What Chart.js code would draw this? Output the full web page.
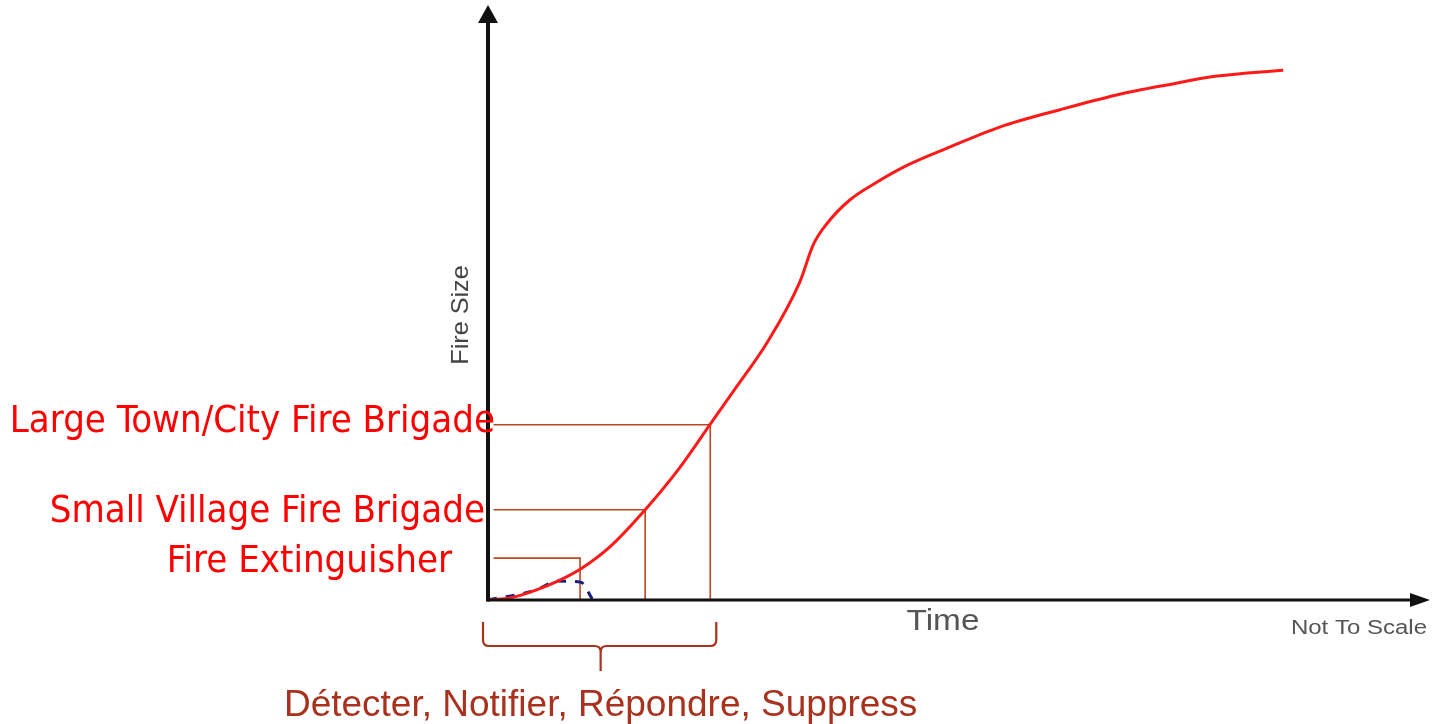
<!DOCTYPE html>
<html>
<head>
<meta charset="utf-8">
<script src="https://cdn.jsdelivr.net/npm/chart.js@4/dist/chart.umd.min.js"></script>
<style>
  html, body { margin: 0; padding: 0; background: #fff; }
  #wrap { width: 1432px; height: 724px; position: relative; }
</style>
</head>
<body>
<div id="wrap"><canvas id="chart" width="1432" height="724"></canvas></div>
<script>
// Fire growth curve vs. response capacity (not to scale)
const timeValues = [0, 2.5, 5.0, 7.5, 10.0, 13.1, 16.9, 20.6, 23.9, 26.3, 30.0, 33.5, 35.0, 36.5, 38.9, 41.8, 45.1, 49.7, 55.1, 61.5, 67.6, 73.0, 78.4, 85.5];
const fireSize = [0, 0.4, 1.6, 3.2, 5.3, 9.0, 15.3, 22.4, 29.8, 35.2, 43.6, 53.8, 60.3, 63.9, 67.8, 70.8, 73.7, 76.8, 80.2, 83.1, 85.6, 87.3, 88.8, 89.8];

// small dashed curve near the origin (mostly hidden under the red one)
const controlTime = [0, 5.0, 7.5, 10.0, 11.2];
const controlSize = [0, 1.6, 3.2, 3.0, 0.2];

const responders = ['Fire Extinguisher', 'Small Village Fire Brigade', 'Large Town/City Fire Brigade'];
const responseTime = [9.9, 16.9, 23.9];
const responseSize = [7.1, 15.3, 29.7];

const xTitle = 'Time';
const yTitle = 'Fire Size';
const noteText = 'Not To Scale';
const braceText = 'Détecter, Notifier, Répondre, Suppress';

const RED = '#ff1a1a';
const BROWN = '#b9471f';
const BRACE = '#a8321e';

// label placement relative to the axis / level line (px)
const labelRight = [-36, -3, 7];
const labelBaseline = [14, 12, 7];

const curve = timeValues.map((t, i) => ({ x: t, y: fireSize[i] }));
const control = controlTime.map((t, i) => ({ x: t, y: controlSize[i] }));
const levelLines = responders.map((name, i) => ({
  label: name,
  data: [{ x: 0.6, y: responseSize[i] }, { x: responseTime[i], y: responseSize[i] }, { x: responseTime[i], y: 0 }],
  showLine: true, borderColor: BROWN, borderWidth: 1.6, pointRadius: 0, tension: 0, order: 3
}));

function text(ctx, str, x, y, font, color, align, sx) {
  ctx.save();
  ctx.font = font;
  ctx.fillStyle = color;
  ctx.textAlign = align || 'left';
  ctx.textBaseline = 'alphabetic';
  ctx.translate(x, y);
  ctx.scale(sx || 1, 1);
  ctx.fillText(str, 0, 0);
  ctx.restore();
}

const sketch = {
  id: 'sketch',
  afterDatasetsDraw(chart) {
    const { ctx, scales: { x, y } } = chart;
    const x0 = x.getPixelForValue(0), y0 = y.getPixelForValue(0);
    const W = chart.width;
    ctx.save();
    ctx.strokeStyle = '#111';
    ctx.fillStyle = '#111';
    // y axis + arrow
    ctx.lineWidth = 4;
    ctx.beginPath(); ctx.moveTo(x0, y0 + 1.5); ctx.lineTo(x0, 20); ctx.stroke();
    ctx.beginPath(); ctx.moveTo(x0, 5); ctx.lineTo(x0 - 10, 23); ctx.lineTo(x0 + 10, 23); ctx.closePath(); ctx.fill();
    // x axis + arrow
    ctx.lineWidth = 3;
    ctx.beginPath(); ctx.moveTo(x0 - 1, y0); ctx.lineTo(W - 16, y0); ctx.stroke();
    ctx.beginPath(); ctx.moveTo(W - 2, y0); ctx.lineTo(W - 22, y0 - 7); ctx.lineTo(W - 22, y0 + 7); ctx.closePath(); ctx.fill();
    ctx.restore();

    // axis titles
    ctx.save();
    ctx.translate(x0 - 20, 315);
    ctx.rotate(-Math.PI / 2);
    text(ctx, yTitle, 0, 0, '24px "Liberation Sans", Arial, sans-serif', '#444', 'center', 1.05);
    ctx.restore();
    text(ctx, xTitle, 943, 630, '29px "Liberation Sans", Arial, sans-serif', '#555', 'center', 1.15);
    text(ctx, noteText, W - 5, 634, '20px "Liberation Sans", Arial, sans-serif', '#555', 'right', 1.2);

    // responder labels
    responders.forEach((name, i) => {
      const py = y.getPixelForValue(responseSize[i]);
      text(ctx, name, x0 + labelRight[i], py + labelBaseline[i], '38px "DejaVu Sans Condensed", "DejaVu Sans", sans-serif', '#ff0000', 'right');
    });

    // brace under the response window
    const bl = x0 - 5, br = x.getPixelForValue(responseTime[2]) + 6;
    const bm = (bl + br) / 2 + 1;
    const top = y0 + 22, mid = y0 + 46, tip = y0 + 71, r = 6;
    ctx.save();
    ctx.strokeStyle = BRACE;
    ctx.lineWidth = 2.2;
    ctx.beginPath();
    ctx.moveTo(bl, top);
    ctx.lineTo(bl, mid - r);
    ctx.quadraticCurveTo(bl, mid, bl + r, mid);
    ctx.lineTo(bm - r, mid);
    ctx.quadraticCurveTo(bm, mid, bm, mid + r);
    ctx.lineTo(bm, tip);
    ctx.moveTo(bm, mid + r);
    ctx.quadraticCurveTo(bm, mid, bm + r, mid);
    ctx.lineTo(br - r, mid);
    ctx.quadraticCurveTo(br, mid, br, mid - r);
    ctx.lineTo(br, top);
    ctx.stroke();
    ctx.restore();
    text(ctx, braceText, bm, 716, '37px "Liberation Sans", Arial, sans-serif', BRACE, 'center');
  }
};

new Chart(document.getElementById('chart'), {
  type: 'scatter',
  data: {
    datasets: [
      { label: 'Fire growth', data: curve, showLine: true, borderColor: RED, borderWidth: 3, pointRadius: 0, cubicInterpolationMode: 'monotone', order: 1 },
      { label: 'Control', data: control, showLine: true, borderColor: '#1a1f7a', borderWidth: 3, borderDash: [9, 9], pointRadius: 0, cubicInterpolationMode: 'monotone', order: 2 },
      ...levelLines
    ]
  },
  plugins: [sketch],
  options: {
    responsive: false,
    animation: false,
    layout: { padding: { left: 488, right: 14, top: 10, bottom: 124 } },
    plugins: { legend: { display: false }, tooltip: { enabled: false } },
    scales: {
      x: { type: 'linear', min: 0, max: 100, display: false },
      y: { type: 'linear', min: 0, max: 100, display: false }
    }
  }
});
</script>
</body>
</html>
